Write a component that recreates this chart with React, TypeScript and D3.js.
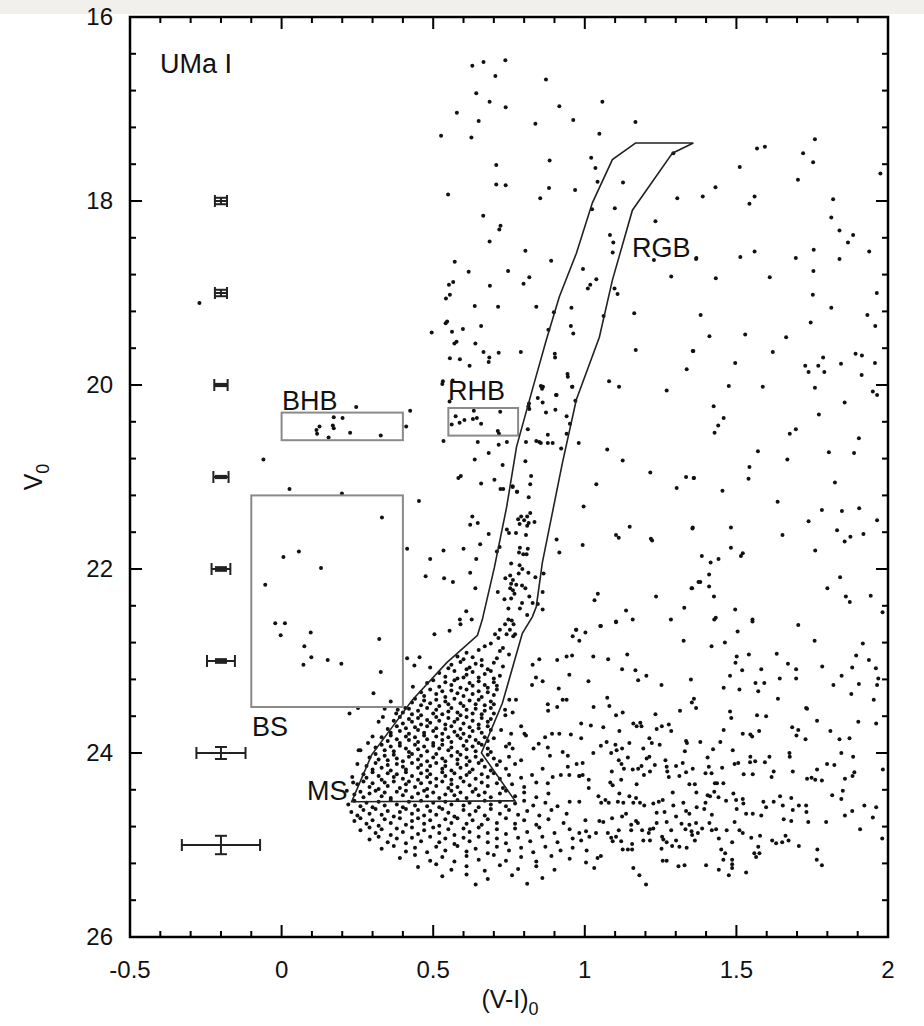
import React from 'react';
import * as d3 from 'd3';

// axis ticks
const xTickValues = [-0.5, 0, 0.5, 1, 1.5, 2];
const xTickLabels = ['-0.5', '0', '0.5', '1', '1.5', '2'];
const yTickValues = [16, 18, 20, 22, 24, 26];

// photometric error bars drawn at (V-I) = -0.2
const errorColour = -0.2;
const errorMags = [18, 19, 20, 21, 22, 23, 24, 25];
const errorVI = [0.02, 0.02, 0.022, 0.025, 0.031, 0.046, 0.081, 0.129];
const errorV = [0.035, 0.035, 0.012, 0.012, 0.02, 0.02, 0.065, 0.1];

// selection boxes [x0, x1, V0, V1]
const boxNames = ['BHB', 'RHB', 'BS'];
const boxBounds = [
  [0.0, 0.4, 20.3, 20.6],
  [0.55, 0.78, 20.25, 20.55],
  [-0.1, 0.4, 21.2, 23.5],
];

// RGB + MS selection polygon, (V-I)0 and V0 vertices
const rgbPolygon = `1.167,17.37 1.091,17.55 1.025,18.02 0.972,18.57 0.916,19.04 0.873,19.51 0.827,20.05
0.775,20.67 0.742,21.33 0.702,21.98 0.662,22.55 0.646,22.72 0.544,23.02 0.432,23.42 0.297,24.02 0.231,24.53
0.77,24.52 0.659,24.0 0.728,23.46 0.794,22.70 0.827,22.52 0.840,22.41 0.860,21.93 0.893,21.39 0.926,20.85
0.972,20.16 1.048,19.48 1.091,18.86 1.157,18.10 1.289,17.48 1.358,17.37`;

// stars, read region by region
const upperStars = `0.629,16.53 0.666,16.49 0.738,16.47 0.705,16.64 0.872,16.68 0.642,16.83 0.686,16.92 0.739,16.98
0.578,17.04 0.650,17.13 0.916,16.97 1.058,16.92 0.962,17.12 0.837,17.16 1.167,17.14 0.526,17.29 0.626,17.31
1.048,17.27 1.292,17.48 0.708,17.61 0.884,17.56 1.021,17.53 1.035,17.64 1.042,17.79 1.126,17.80 0.708,17.82
0.739,17.83 0.882,17.86 0.968,17.88 0.853,17.97 0.549,17.93 1.305,17.97 1.024,18.09 1.099,18.08 0.665,18.16
1.233,18.22 0.722,18.27 0.718,18.31 1.083,18.37 1.094,18.45 1.092,18.56 0.686,18.44 0.804,18.54 1.367,18.63
1.228,18.64 0.889,18.65 0.571,18.66 0.617,18.77 0.747,18.76 0.994,18.74 0.817,18.83 0.798,18.90 1.285,18.82
1.038,18.85 1.018,18.91 1.010,18.95 1.098,18.95 1.108,19.01 0.552,18.91 0.566,18.88 0.687,18.92 0.555,19.02
0.542,19.06 0.637,19.14 0.714,19.15 0.840,19.15 0.956,19.16 0.898,19.21 1.062,19.25 1.163,19.22 0.541,19.33
0.546,19.31 0.495,19.43 0.562,19.42 0.598,19.39 0.658,19.36 0.880,19.40 0.954,19.36 0.962,19.44 0.570,19.55
0.577,19.53 0.639,19.55 0.666,19.64 0.685,19.70 0.683,19.75 0.716,19.65 0.555,19.71 0.588,19.72 0.620,19.79
0.789,19.64 0.901,19.66 0.902,19.70 1.168,19.62 1.356,19.63 1.336,19.83 0.943,19.88 0.944,19.91 0.959,20.02
1.080,19.96 1.113,20.02 1.270,20.06 0.862,20.02 0.859,20.04 0.905,20.11 0.532,19.96 0.564,19.95`;

const rightFieldStars = `1.759,17.33 1.568,17.43 1.594,17.41 1.720,17.48 1.753,17.58 1.511,17.63 1.975,17.70 1.703,17.77
1.431,17.85 1.389,17.95 1.560,17.95 1.543,18.03 1.819,17.98 1.813,18.18 1.840,18.32 1.885,18.37 1.868,18.45
1.368,18.62 1.513,18.61 1.560,18.55 1.696,18.62 1.755,18.53 1.840,18.63 1.938,18.55 1.432,18.84 1.610,18.83
1.754,18.76 1.963,19.00 1.752,19.02 1.813,19.16 1.382,19.24 1.932,19.24 1.958,19.36 1.745,19.32 1.411,19.47
1.529,19.45 1.664,19.48 1.358,19.63 1.620,19.64 1.496,19.76 1.786,19.70 1.727,19.79 1.770,19.79 1.893,19.66
1.914,19.68 1.845,19.77 1.738,19.86 1.790,19.86 1.957,19.76 1.913,19.89 1.475,20.01 1.587,20.02 1.759,20.03
1.950,20.07 1.964,20.11 1.857,20.19 1.425,20.23 1.772,20.32 1.458,20.36 1.440,20.44 1.428,20.52 1.676,20.53
1.696,20.48 1.904,20.58 1.571,20.72 1.805,20.73 1.888,20.74 1.668,20.81 1.543,20.89 1.540,21.02 1.360,21.01
1.825,21.06 1.454,21.15 1.636,21.27 1.782,21.36 1.848,21.37 1.905,21.34 1.964,21.47 1.738,21.48 1.355,21.56
1.482,21.55 1.652,21.63 1.832,21.58 1.857,21.70 1.876,21.65 1.919,21.62 1.760,21.80 1.482,21.77 1.521,21.83
1.515,21.86 1.386,21.86 1.415,21.93 1.441,21.89 1.410,22.06 1.381,22.14 1.410,22.19 1.354,22.21 1.426,22.30
1.496,22.44 1.432,22.53 1.553,22.55 1.842,22.09 1.800,22.21 1.861,22.30 1.874,22.36 1.943,22.29 1.982,22.47`;

const branchStars = `0.246,20.24 0.424,20.28 0.172,20.35 0.201,20.36 0.125,20.45 0.169,20.44 0.172,20.47 0.115,20.49
0.117,20.53 0.226,20.52 0.155,20.57 0.327,20.55 0.411,20.45 -0.060,20.81 0.026,21.13 0.199,21.18 0.453,21.26
0.331,21.44 0.057,21.81 0.006,21.87 0.130,21.99 -0.054,22.17 -0.021,22.59 0.011,22.59 -0.003,22.72 0.096,22.69
0.075,22.84 0.098,22.96 0.072,23.04 0.152,22.99 0.197,23.03 0.322,22.76 0.327,23.12 0.303,23.35 0.414,21.78
0.252,23.51 0.224,23.57 -0.271,19.11
0.530,19.99 0.554,20.18 0.574,20.34 0.561,20.43 0.587,20.41 0.603,20.38 0.634,20.28 0.631,20.37 0.644,20.36
0.658,20.42 0.721,20.29 0.713,20.50 0.717,20.53 0.534,20.61 0.647,20.62 0.716,20.65 0.743,20.62 0.683,20.74
0.637,20.81 0.729,20.87 0.583,21.01 0.591,20.99 0.658,21.07 0.702,21.03 0.722,21.13 0.731,21.13 0.762,21.11
0.777,21.16 0.629,21.43 0.622,21.52 0.647,21.50 0.683,21.62 0.655,21.73 0.534,21.80 0.600,21.78 0.642,21.89
0.490,21.89 0.475,22.08 0.536,22.10 0.565,22.14 0.622,22.04 0.639,22.21 0.609,22.46 0.588,22.55 0.590,22.60
0.627,22.55 0.554,22.67 0.504,22.71 0.414,22.97 0.455,22.96 0.438,23.05 0.490,23.07 0.433,23.28 0.408,23.51
0.378,23.57 0.334,23.61`;

const rgbStars = `0.860,20.02 0.855,20.01 0.907,20.11 0.958,20.02 0.816,20.20 0.814,20.23 0.817,20.26 0.845,20.14
0.861,20.19 0.872,20.30 0.903,20.27 0.940,20.34 0.951,20.42 0.969,20.17 0.812,20.48 0.878,20.54 0.940,20.53
0.840,20.61 0.855,20.63 0.850,20.62 0.878,20.63 0.894,20.63 0.806,20.62 0.922,20.69 0.980,20.63 0.804,20.83
0.823,20.99 0.820,21.08 0.776,21.16 0.815,21.22 0.762,21.10 0.820,21.39 0.810,21.43 0.800,21.47 0.815,21.50
0.810,21.53 0.790,21.43 0.780,21.46 0.785,21.51 0.834,21.49 0.750,21.61 0.743,21.57 0.773,21.61 0.806,21.63
0.786,21.77 0.783,21.82 0.797,21.84 0.808,21.84 0.812,21.78 0.757,21.94 0.785,21.96 0.794,22.00 0.782,22.05
0.814,22.04 0.837,22.09 0.738,22.10 0.754,22.07 0.763,22.12 0.757,22.16 0.774,22.17 0.754,22.21 0.763,22.23
0.793,22.18 0.804,22.21 0.768,22.27 0.735,22.33 0.757,22.32 0.793,22.37 0.713,22.25 0.817,22.30 0.861,22.25
0.828,22.37 0.845,22.38 0.861,22.44 0.748,22.43 0.786,22.43 0.810,22.50 0.748,22.55 0.759,22.56 0.737,22.60
0.765,22.60 0.753,22.66 0.742,22.71 0.764,22.73 0.720,22.66 0.704,22.71 0.715,22.75 0.770,22.71 0.719,21.76
0.710,21.81
1.074,20.70 1.125,20.82 1.216,20.95 1.334,21.00 1.359,21.01 1.303,21.12 1.038,21.08 0.996,21.32 1.148,21.54
1.356,21.55 1.103,21.63 1.112,21.66 1.218,21.67 1.222,21.69 0.907,21.68 0.993,21.74 0.916,21.82 1.375,22.14
1.352,22.21 1.043,22.27 1.032,22.34 1.235,22.30 1.136,22.45 1.328,22.42 1.284,22.55 1.158,22.55 1.103,22.57
1.051,22.62 0.971,22.66 1.002,22.69 0.960,22.73 0.864,22.05`;

const lowerFieldStars = `1.053,22.62 1.103,22.58 1.427,22.55 1.553,22.57 1.704,22.61 0.982,22.78 1.326,22.78 1.504,22.68
1.462,22.80 1.418,22.84 1.758,22.78 1.917,22.81 1.028,22.95 1.077,22.98 1.140,22.93 1.123,23.09 1.167,23.10
1.176,23.21 1.203,23.16 1.012,23.22 1.253,23.26 1.350,23.20 1.497,23.02 1.501,22.95 1.541,22.93 1.519,23.10
1.458,23.29 1.479,23.16 1.510,23.31 1.582,23.09 1.563,23.24 1.592,23.24 1.572,23.33 1.633,22.92 1.670,23.03
1.697,23.09 1.697,23.19 1.643,23.19 1.637,23.41 1.783,23.06 1.820,23.26 1.847,23.16 1.882,23.07 1.895,22.94
1.904,23.25 1.937,22.99 1.960,23.08 1.968,23.19 1.964,23.26 1.879,23.36 1.953,23.42 1.902,23.66 1.961,23.68
1.029,23.50 1.081,23.49 1.074,23.40 1.103,23.59 1.125,23.56 1.020,23.70 1.061,23.72 1.114,23.76 1.160,23.68
1.171,23.71 1.183,23.67 1.187,23.71 1.233,23.58 1.254,23.71 1.237,23.74 1.277,23.69 1.285,23.76 1.314,23.54
1.353,23.45 1.360,23.41 1.367,23.51 1.479,23.55 1.483,23.62 1.568,23.59 1.598,23.60 1.730,23.51 1.733,23.52
1.766,23.65 1.684,23.72 1.704,23.75 1.698,23.81 1.728,23.85 1.810,23.76 1.840,23.85 1.873,23.84 1.521,23.79
1.546,23.80 1.552,23.82 1.575,23.76 1.458,23.75 1.447,23.88 0.988,23.84 0.993,24.11 0.982,24.25 1.013,24.29
1.028,24.00 1.053,23.92 1.072,23.88 1.087,24.00 1.089,24.20 1.101,23.91 1.105,23.97 1.123,23.95 1.112,24.08
1.121,24.12 1.129,24.17 1.142,24.05 1.147,23.89 1.158,24.18 1.176,24.17 1.187,24.14 1.193,23.95 1.195,24.24
1.204,24.06 1.213,24.04 1.215,24.20 1.221,23.89 1.213,23.84 1.231,24.13 1.247,23.91 1.266,24.08 1.272,24.20
1.277,24.26 1.270,24.15 1.301,24.14 1.312,24.25 1.323,24.11 1.330,23.98 1.334,23.87 1.337,23.89 1.334,24.21
1.356,24.17 1.363,24.34 1.345,24.34 1.381,23.88 1.405,24.05 1.409,24.15 1.423,23.96 1.398,24.22 1.418,24.22
1.429,24.33 1.436,24.33 1.457,24.33 1.453,24.16 1.488,23.97 1.494,24.12 1.506,24.11 1.524,24.23 1.546,24.04
1.554,24.23 1.545,24.10 1.562,24.09 1.594,24.10 1.609,24.04 1.616,24.26 1.623,24.20 1.675,24.00 1.676,24.04
1.686,24.20 1.733,24.28 1.748,24.27 1.760,24.29 1.782,24.30 1.766,24.18 1.799,24.12 1.823,24.13 1.858,24.28
1.846,24.00 1.885,24.04 1.883,24.25 1.889,24.21 1.983,24.18 0.982,24.53 1.002,24.73 1.013,24.38 1.045,24.47
1.054,24.54 1.068,24.51 1.084,24.32 1.092,24.35 1.079,24.54 1.090,24.71 1.109,24.53 1.114,24.44 1.120,24.29
1.127,24.54 1.123,24.69 1.147,24.47 1.160,24.54 1.169,24.49 1.171,24.34 1.136,24.66 1.153,24.78 1.182,24.54
1.196,24.57 1.226,24.55 1.244,24.53 1.257,24.51 1.237,24.65 1.263,24.64 1.290,24.43 1.292,24.57 1.301,24.69
1.325,24.54 1.334,24.63 1.345,24.66 1.368,24.43 1.369,24.59 1.394,24.61 1.398,24.54 1.405,24.46 1.427,24.42
1.413,24.47 1.419,24.67 1.441,24.48 1.466,24.52 1.490,24.44 1.499,24.51 1.501,24.61 1.521,24.50 1.523,24.55
1.532,24.66 1.554,24.66 1.589,24.53 1.598,24.59 1.623,24.53 1.644,24.47 1.653,24.57 1.681,24.49 1.686,24.62
1.706,24.57 1.730,24.57 1.731,24.64 1.737,24.75 1.796,24.75 1.816,24.46 1.846,24.50 1.851,24.41 1.882,24.63
1.922,24.57 1.950,24.70 1.961,24.59 1.656,24.72 1.681,24.74 1.582,24.68 1.858,24.68 0.982,24.87 0.988,24.95
1.004,24.85 1.015,24.91 1.006,25.06 1.031,25.25 1.042,25.14 1.053,25.12 1.004,25.19 1.037,24.87 1.048,24.74
1.061,24.75 1.076,24.87 1.087,24.92 1.092,24.96 1.103,24.91 1.112,24.84 1.120,24.96 1.125,25.05 1.142,25.05
1.156,25.05 1.156,24.99 1.153,24.84 1.175,24.76 1.169,24.74 1.189,24.84 1.193,24.95 1.211,24.87 1.215,24.95
1.215,24.83 1.226,24.82 1.237,24.76 1.255,24.91 1.259,24.94 1.253,25.04 1.270,24.97 1.270,24.75 1.285,24.84
1.288,25.01 1.301,24.95 1.312,25.02 1.319,24.77 1.332,24.83 1.336,25.03 1.345,24.78 1.352,24.85 1.354,24.89
1.363,24.95 1.367,24.76 1.373,24.87 1.387,24.82 1.411,24.76 1.419,24.84 1.433,24.83 1.442,24.93 1.450,25.05
1.463,25.09 1.468,24.84 1.494,24.75 1.486,24.97 1.510,24.84 1.521,24.87 1.549,24.92 1.559,25.09 1.565,25.13
1.572,25.02 1.576,25.09 1.578,24.90 1.618,24.95 1.631,24.98 1.651,24.97 1.662,24.90 1.672,24.95 1.706,25.01
1.767,25.05 1.765,25.16 1.782,25.22 1.908,24.83 1.981,24.93 1.160,25.25 1.180,25.33 1.202,25.43 1.257,25.17
1.270,25.17 1.309,25.23 1.329,25.22 1.400,25.22 1.442,25.27 1.457,25.16 1.475,25.33 1.486,25.16 1.486,25.21
1.486,25.25 1.532,25.30`;

// field stars around the turnoff, outside the MS outline
const turnoffFieldStars = `0.972,22.66 0.940,22.95 0.958,22.94 0.909,22.99 0.850,22.98 0.828,23.04 0.839,23.18 0.861,23.22
0.826,23.26 0.914,23.30 0.949,23.15 0.927,23.42 0.940,23.42 0.909,23.50 0.878,23.47 0.879,23.54 0.773,23.42
0.751,23.42 0.737,23.53 0.738,23.59 0.762,23.56 0.790,23.71 0.757,23.79 0.724,23.75 0.988,23.68 0.892,23.79
0.916,23.79 0.954,23.80 0.869,23.83 0.801,23.79 0.806,23.81 0.751,23.90 0.762,23.95 0.740,23.93 0.848,23.90
0.831,23.95 0.878,23.94 0.885,24.03 0.927,23.99 0.944,24.03 0.944,24.15 0.973,24.12 0.993,24.24 0.982,24.25
0.949,24.24 0.921,24.24 0.894,24.26 0.878,24.33 0.826,24.24 0.861,24.17 0.790,24.08
0.26,23.97 0.30,23.82 0.233,24.26 0.236,24.32 0.254,23.97 0.383,23.53 0.36,23.44 0.32,23.66 0.285,23.89
0.215,24.41 0.25,24.12 0.34,23.52`;

// subgiant branch and upper main sequence, V 22.8 - 24.0
const subgiantStars = `0.61,22.91 0.63,22.96 0.65,22.88 0.67,22.84 0.69,22.81 0.66,22.99 0.71,22.97 0.73,22.86
0.75,22.93 0.60,22.98 0.72,22.89 0.58,22.95 0.56,23.04 0.59,23.01 0.62,23.07 0.64,23.03 0.68,23.09 0.70,23.02
0.73,23.06 0.55,23.08 0.66,23.05 0.61,23.09 0.52,23.13 0.54,23.17 0.57,23.11 0.58,23.19 0.61,23.15 0.63,23.12
0.65,23.18 0.67,23.14 0.69,23.11 0.70,23.19 0.72,23.16 0.60,23.18 0.48,23.24 0.50,23.21 0.52,23.28 0.54,23.23
0.56,23.26 0.57,23.21 0.59,23.29 0.62,23.24 0.63,23.27 0.65,23.22 0.67,23.26 0.68,23.29 0.70,23.23 0.71,23.27
0.46,23.34 0.47,23.38 0.49,23.31 0.51,23.36 0.53,23.33 0.54,23.39 0.56,23.32 0.58,23.35 0.60,23.38 0.61,23.31
0.63,23.36 0.65,23.33 0.66,23.39 0.68,23.34 0.70,23.37 0.71,23.31 0.43,23.45 0.44,23.41 0.46,23.48 0.47,23.43
0.49,23.46 0.51,23.42 0.52,23.49 0.54,23.44 0.55,23.47 0.57,23.41 0.59,23.46 0.60,23.49 0.62,23.43 0.64,23.47
0.65,23.42 0.67,23.48 0.69,23.44 0.70,23.47 0.40,23.56 0.42,23.52 0.43,23.58 0.45,23.54 0.46,23.59 0.48,23.51
0.50,23.57 0.51,23.53 0.53,23.58 0.55,23.55 0.56,23.51 0.58,23.56 0.59,23.59 0.61,23.53 0.63,23.57 0.64,23.52
0.66,23.58 0.67,23.54 0.69,23.51 0.70,23.57 0.37,23.65 0.39,23.61 0.40,23.68 0.42,23.63 0.43,23.66 0.45,23.62
0.46,23.69 0.48,23.64 0.49,23.67 0.51,23.61 0.52,23.65 0.54,23.69 0.55,23.62 0.57,23.66 0.58,23.63 0.60,23.68
0.61,23.61 0.63,23.65 0.65,23.69 0.66,23.62 0.68,23.66 0.69,23.63 0.35,23.74 0.36,23.78 0.38,23.71 0.39,23.76
0.41,23.73 0.42,23.79 0.44,23.72 0.45,23.75 0.47,23.78 0.48,23.71 0.50,23.76 0.51,23.73 0.53,23.79 0.54,23.74
0.56,23.71 0.57,23.77 0.59,23.74 0.60,23.79 0.62,23.72 0.63,23.76 0.65,23.73 0.66,23.78 0.68,23.71 0.69,23.75
0.33,23.83 0.35,23.87 0.36,23.81 0.38,23.85 0.39,23.89 0.41,23.82 0.42,23.86 0.44,23.83 0.45,23.88 0.47,23.81
0.48,23.85 0.50,23.89 0.51,23.82 0.53,23.86 0.55,23.83 0.56,23.88 0.58,23.81 0.59,23.84 0.61,23.87 0.62,23.82
0.64,23.86 0.65,23.89 0.67,23.83 0.68,23.87 0.70,23.84 0.31,23.94 0.33,23.91 0.34,23.97 0.36,23.93 0.37,23.98
0.39,23.92 0.41,23.95 0.42,23.99 0.44,23.91 0.45,23.96 0.47,23.93 0.48,23.98 0.50,23.92 0.52,23.95 0.53,23.91
0.55,23.97 0.56,23.94 0.58,23.99 0.60,23.92 0.61,23.96 0.63,23.93 0.64,23.98 0.66,23.91 0.68,23.95 0.69,23.99`;

// lower main sequence, V 24.0 - 25.5
const mainSequenceStars = `0.29,24.05 0.31,24.01 0.32,24.07 0.34,24.03 0.35,24.08 0.37,24.02 0.38,24.06 0.40,24.09
0.42,24.04 0.43,24.01 0.45,24.07 0.46,24.03 0.48,24.09 0.50,24.05 0.51,24.01 0.53,24.06 0.54,24.09 0.56,24.03
0.58,24.07 0.59,24.02 0.61,24.05 0.62,24.09 0.64,24.04 0.66,24.08 0.68,24.02 0.70,24.06 0.72,24.09 0.75,24.04
0.28,24.14 0.30,24.18 0.31,24.11 0.33,24.16 0.35,24.13 0.36,24.19 0.38,24.12 0.40,24.15 0.41,24.18 0.43,24.11
0.45,24.16 0.46,24.13 0.48,24.19 0.49,24.14 0.51,24.11 0.53,24.17 0.54,24.14 0.56,24.19 0.58,24.12 0.59,24.16
0.61,24.13 0.63,24.18 0.65,24.11 0.67,24.15 0.69,24.19 0.71,24.13 0.74,24.17 0.77,24.12 0.27,24.23 0.28,24.27
0.30,24.21 0.32,24.25 0.33,24.29 0.35,24.22 0.37,24.26 0.38,24.23 0.40,24.28 0.41,24.21 0.43,24.25 0.45,24.29
0.46,24.22 0.48,24.26 0.49,24.23 0.51,24.28 0.53,24.21 0.54,24.25 0.56,24.29 0.57,24.22 0.59,24.27 0.61,24.24
0.62,24.21 0.64,24.28 0.66,24.23 0.68,24.26 0.70,24.22 0.72,24.28 0.75,24.24 0.79,24.27 0.25,24.34 0.27,24.31
0.29,24.37 0.30,24.33 0.32,24.39 0.34,24.32 0.35,24.36 0.37,24.31 0.39,24.38 0.41,24.34 0.42,24.31 0.44,24.37
0.46,24.33 0.48,24.39 0.49,24.32 0.51,24.36 0.53,24.31 0.55,24.38 0.56,24.34 0.58,24.37 0.60,24.31 0.62,24.35
0.64,24.39 0.66,24.32 0.68,24.36 0.71,24.33 0.73,24.38 0.76,24.34 0.80,24.37 0.84,24.32 0.24,24.45 0.26,24.42
0.27,24.48 0.29,24.44 0.31,24.41 0.33,24.47 0.34,24.43 0.36,24.49 0.38,24.42 0.40,24.46 0.41,24.41 0.43,24.48
0.45,24.44 0.47,24.41 0.48,24.47 0.50,24.43 0.52,24.49 0.54,24.45 0.56,24.41 0.57,24.46 0.59,24.43 0.61,24.49
0.63,24.42 0.65,24.46 0.67,24.43 0.69,24.48 0.72,24.44 0.74,24.41 0.77,24.47 0.80,24.43 0.84,24.48 0.88,24.44
0.22,24.56 0.24,24.52 0.26,24.58 0.28,24.54 0.30,24.59 0.32,24.53 0.34,24.57 0.36,24.51 0.38,24.56 0.40,24.59
0.42,24.53 0.44,24.57 0.46,24.52 0.48,24.58 0.50,24.54 0.52,24.59 0.54,24.53 0.56,24.56 0.58,24.51 0.60,24.57
0.62,24.54 0.65,24.59 0.67,24.52 0.69,24.56 0.72,24.53 0.74,24.58 0.77,24.55 0.80,24.52 0.83,24.57 0.87,24.54
0.91,24.58 0.95,24.53 0.23,24.64 0.25,24.68 0.27,24.62 0.29,24.66 0.31,24.61 0.33,24.67 0.35,24.63 0.37,24.69
0.39,24.64 0.41,24.61 0.43,24.66 0.45,24.62 0.47,24.68 0.49,24.63 0.51,24.67 0.53,24.61 0.55,24.65 0.57,24.69
0.60,24.62 0.62,24.67 0.64,24.63 0.67,24.68 0.69,24.61 0.72,24.66 0.75,24.62 0.78,24.67 0.81,24.63 0.85,24.68
0.89,24.62 0.94,24.66 0.24,24.74 0.26,24.71 0.28,24.77 0.30,24.73 0.32,24.79 0.34,24.72 0.36,24.76 0.39,24.71
0.41,24.78 0.43,24.74 0.45,24.71 0.47,24.77 0.49,24.73 0.52,24.79 0.54,24.72 0.56,24.76 0.58,24.71 0.61,24.77
0.63,24.73 0.66,24.78 0.68,24.72 0.71,24.76 0.74,24.71 0.77,24.77 0.80,24.73 0.84,24.78 0.88,24.72 0.93,24.76
0.26,24.84 0.29,24.81 0.31,24.87 0.33,24.83 0.36,24.89 0.38,24.82 0.40,24.86 0.43,24.81 0.45,24.88 0.47,24.84
0.50,24.81 0.52,24.87 0.55,24.83 0.57,24.89 0.60,24.82 0.62,24.86 0.65,24.81 0.68,24.87 0.71,24.83 0.74,24.88
0.77,24.82 0.81,24.86 0.85,24.81 0.90,24.87 0.95,24.83 0.29,24.94 0.32,24.91 0.35,24.97 0.38,24.93 0.41,24.98
0.43,24.92 0.46,24.96 0.49,24.91 0.52,24.97 0.54,24.93 0.57,24.99 0.60,24.92 0.62,24.96 0.65,24.91 0.68,24.97
0.71,24.93 0.74,24.98 0.78,24.92 0.82,24.96 0.86,24.91 0.91,24.97 0.96,24.93 0.33,25.04 0.37,25.01 0.41,25.07
0.44,25.03 0.48,25.08 0.51,25.02 0.54,25.06 0.58,25.01 0.61,25.07 0.64,25.04 0.68,25.09 0.71,25.02 0.75,25.06
0.79,25.03 0.83,25.08 0.87,25.02 0.92,25.06 0.96,25.03 0.39,25.14 0.44,25.11 0.49,25.17 0.53,25.13 0.57,25.18
0.61,25.12 0.65,25.16 0.70,25.11 0.74,25.17 0.79,25.13 0.84,25.18 0.89,25.12 0.95,25.15 0.45,25.24 0.51,25.21
0.56,25.27 0.61,25.23 0.67,25.28 0.72,25.22 0.78,25.26 0.84,25.23 0.90,25.27 0.53,25.34 0.61,25.32 0.68,25.37
0.76,25.33 0.86,25.36 0.64,25.43 0.81,25.42`;

const parsePairs = (s: string): [number, number][] =>
  s.trim().split(/\s+/).map((p) => p.split(',').map(Number) as [number, number]);

const stars = [
  upperStars, rightFieldStars, branchStars, rgbStars, lowerFieldStars,
  turnoffFieldStars, subgiantStars, mainSequenceStars,
].flatMap(parsePairs);

const font = '"Liberation Sans", Arial, Helvetica, sans-serif';

const App = () => {
  const left = 130, right = 888, top = 17, bottom = 937;
  const x = d3.scaleLinear().domain([-0.5, 2]).range([left, right]);
  const y = d3.scaleLinear().domain([16, 26]).range([top, bottom]);

  const xMinor = d3.range(-0.5, 2.0001, 0.1);
  const yMinor = d3.range(16, 26.0001, 0.4);
  const isMajorX = (v: number) => Math.abs(v * 2 - Math.round(v * 2)) < 1e-6;
  const isMajorY = (v: number) => Math.abs(v / 2 - Math.round(v / 2)) < 1e-6;

  const polyLine = d3.line<[number, number]>()
    .x((d) => x(d[0]))
    .y((d) => y(d[1]));
  const polyPts = parsePairs(rgbPolygon);

  const cap = 6;

  return (
    <svg width={924} height={1026} style={{ position: 'absolute', left: 0, top: 0, background: '#fff' }}
      fontFamily={font}>
      <rect x={0} y={0} width={924} height={1026} fill="#fff" />
      <rect x={0} y={0} width={924} height={14} fill="#f2f0ec" />

      {/* stars */}
      <g fill="#111">
        {stars.map((d, i) => (
          <circle key={i} cx={x(d[0])} cy={y(d[1])} r={2} />
        ))}
      </g>

      {/* selection boxes */}
      <g fill="none" stroke="#8a8a8a" strokeWidth={2}>
        {boxBounds.map((b, i) => (
          <rect key={boxNames[i]} x={x(b[0])} y={y(b[2])} width={x(b[1]) - x(b[0])} height={y(b[3]) - y(b[2])} />
        ))}
      </g>

      {/* RGB / MS polygon */}
      <path d={polyLine(polyPts) + 'Z'} fill="none" stroke="#222" strokeWidth={1.6} />

      {/* error bars */}
      <g stroke="#222" strokeWidth={2} fill="none">
        {errorMags.map((m, i) => {
          const cx = x(errorColour);
          const cy = y(m);
          const x0 = x(errorColour - errorVI[i]);
          const x1 = x(errorColour + errorVI[i]);
          const y0 = y(m - errorV[i]);
          const y1 = y(m + errorV[i]);
          return (
            <g key={m}>
              <line x1={x0} x2={x1} y1={cy} y2={cy} />
              <line x1={x0} x2={x0} y1={cy - cap} y2={cy + cap} />
              <line x1={x1} x2={x1} y1={cy - cap} y2={cy + cap} />
              <line x1={cx} x2={cx} y1={y0} y2={y1} />
              <line x1={cx - cap} x2={cx + cap} y1={y0} y2={y0} />
              <line x1={cx - cap} x2={cx + cap} y1={y1} y2={y1} />
            </g>
          );
        })}
      </g>

      {/* frame and ticks */}
      <g stroke="#000" strokeWidth={2}>
        {xMinor.map((v) => {
          const len = isMajorX(v) ? 12 : 6;
          return (
            <g key={'x' + v.toFixed(1)}>
              <line x1={x(v)} x2={x(v)} y1={bottom} y2={bottom - len} />
              <line x1={x(v)} x2={x(v)} y1={top} y2={top + len} />
            </g>
          );
        })}
        {yMinor.map((v) => {
          const len = isMajorY(v) ? 12 : 6;
          return (
            <g key={'y' + v.toFixed(1)}>
              <line x1={left} x2={left + len} y1={y(v)} y2={y(v)} />
              <line x1={right} x2={right - len} y1={y(v)} y2={y(v)} />
            </g>
          );
        })}
      </g>
      <rect x={left} y={top} width={right - left} height={bottom - top} fill="none" stroke="#000" strokeWidth={2.5} />

      {/* tick labels */}
      <g fontSize={24} fill="#111">
        {xTickValues.map((v, i) => (
          <text key={'xl' + v} x={x(v)} y={bottom + 41} textAnchor="middle">{xTickLabels[i]}</text>
        ))}
        {yTickValues.map((v) => (
          <text key={'yl' + v} x={left - 17} y={y(v) + 8} textAnchor="end">{v}</text>
        ))}
      </g>

      {/* axis titles */}
      <text x={510} y={1008} fontSize={25} textAnchor="middle" fill="#111">
        (V-I)<tspan dy={7} fontSize={18}>0</tspan>
      </text>
      <text transform={`translate(42, ${(top + bottom) / 2}) rotate(-90)`} fontSize={25} textAnchor="middle" fill="#111">
        V<tspan dy={7} fontSize={18}>0</tspan>
      </text>

      {/* annotations */}
      <g fontSize={27} fill="#111">
        <text x={160} y={73}>UMa I</text>
        <text x={282} y={410}>BHB</text>
        <text x={448} y={400}>RHB</text>
        <text x={632} y={257}>RGB</text>
        <text x={252} y={736}>BS</text>
        <text x={307} y={800}>MS</text>
      </g>
    </svg>
  );
};

export default App;
